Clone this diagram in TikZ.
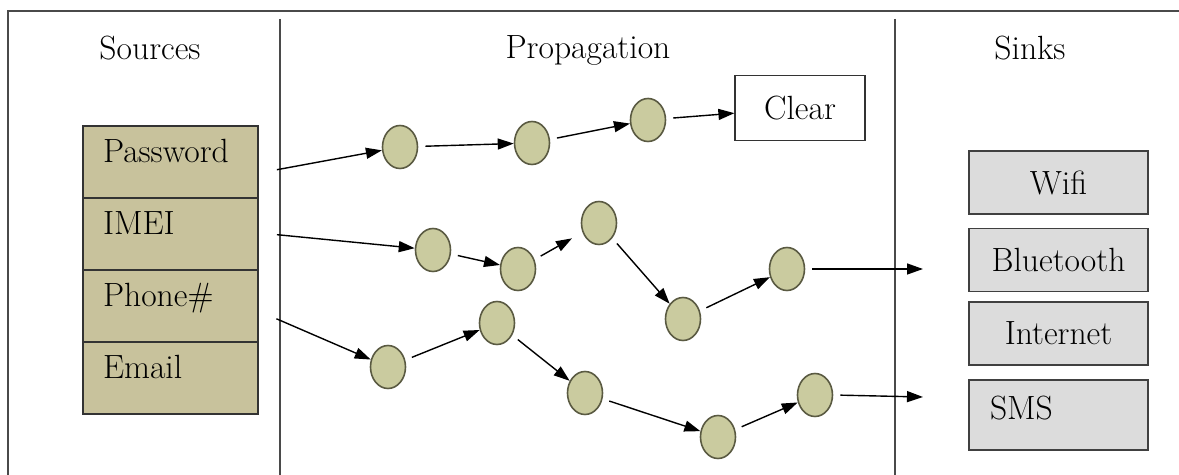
\documentclass[tikz,border=0pt]{standalone}
\usepackage{fontspec}
\usetikzlibrary{positioning,shapes.geometric,arrows.meta}

\definecolor{srcfill}{HTML}{C8C29C}
\definecolor{dotfill}{HTML}{CACB9F}
\definecolor{dotline}{HTML}{5A5A42}
\definecolor{sinkfill}{HTML}{DCDCDC}
\definecolor{frameline}{HTML}{4A4A4A}
\newcommand{\lblfont}{\fontsize{16.8}{20}\selectfont}

\tikzset{
  cell/.style={draw=black!80, fill=srcfill, line width=0.6pt, outer sep=0pt,
    minimum width=87.5pt, minimum height=36pt, inner xsep=10pt,
    text width=67.5pt, align=left, text depth=11pt},
  dot/.style={ellipse, draw=dotline, fill=dotfill, line width=0.8pt,
    minimum width=17.5pt, minimum height=21.5pt, inner sep=0pt},
  sink/.style={draw=black!75, fill=sinkfill, line width=0.6pt, outer sep=0pt,
    minimum width=89.5pt, minimum height=31.5pt},
  flow/.style={-{Triangle[length=8pt,width=5.5pt]}, line width=0.7pt, shorten <=3.5pt}
}

\begin{document}
\begin{tikzpicture}[x=0.5pt, y=-0.5pt, font=\lblfont]
  \useasboundingbox (0,0) rectangle (1179,475);
  % frame and column dividers
  \draw[frameline, line width=0.8pt] (8,475) -- (8,11) -- (1179,11);
  \draw[frameline, line width=0.8pt] (280,19) -- (280,475);
  \draw[frameline, line width=0.8pt] (895,19) -- (895,475);

  % column titles
  \node (srctitle) at (150,48) {Sources};
  \node (proptitle) at (588,50) {Propagation};
  \node (sinktitle) at (1030,48) {Sinks};

  % sources
  \node[cell] (pwd) at (170.5,162) {Password};
  \node[cell, below=0pt of pwd] (imei) {IMEI};
  \node[cell, below=0pt of imei] (phone) {Phone\#};
  \node[cell, below=0pt of phone] (email) {Email};

  % first path
  \node[dot] (a1) at (400,147) {};
  \node[dot] (a2) at (532,143) {};
  \node[dot] (a3) at (648,120) {};
  \node[draw=black!80, line width=0.6pt, minimum width=65pt, minimum height=32.5pt] (clear) at (800,108) {Clear};

  % second path
  \node[dot] (b1) at (433,250) {};
  \node[dot] (b2) at (518,269) {};
  \node[dot] (b3) at (599,223) {};
  \node[dot] (b4) at (683,319) {};
  \node[dot] (b5) at (787,269) {};
  \coordinate (bout) at (923,269);

  % third path
  \node[dot] (c1) at (388,367) {};
  \node[dot] (c2) at (497,323) {};
  \node[dot] (c3) at (585,393) {};
  \node[dot] (c4) at (718,437) {};
  \node[dot] (c5) at (815,395) {};
  \coordinate (cout) at (923,397);

  % sinks
  \node[sink] (wifi) at (1058.5,182.5) {Wifi};
  \node[sink] (bt) at (1058.5,260) {Bluetooth};
  \node[sink] (inet) at (1058.5,333.5) {Internet};
  \node[sink, minimum height=35pt, text width=68.5pt, inner xsep=10.5pt, align=left, text depth=7pt] (sms) at (1058.5,415) {SMS};

  % connectors
  \draw[flow] ([xshift=6pt,yshift=-4.5pt]pwd.east) -- (a1);
  \draw[flow] (a1) -- (a2);
  \draw[flow] (a2) -- (a3);
  \draw[flow] (a3) -- (clear);

  \draw[flow] ([xshift=6pt,yshift=0pt]imei.east) -- (b1);
  \draw[flow] (b1) -- (b2);
  \draw[flow, shorten >=6pt] (b2) -- (b3);
  \draw[flow] (b3) -- (b4);
  \draw[flow] (b4) -- (b5);
  \draw[flow] (b5.east) -- (bout);

  \draw[flow] ([xshift=6pt,yshift=-5pt]phone.east) -- (c1);
  \draw[flow] (c1) -- (c2);
  \draw[flow] (c2) -- (c3);
  \draw[flow] (c3) -- (c4);
  \draw[flow] (c4) -- (c5);
  \draw[flow] (c5.east) -- (cout);
\end{tikzpicture}
\end{document}
